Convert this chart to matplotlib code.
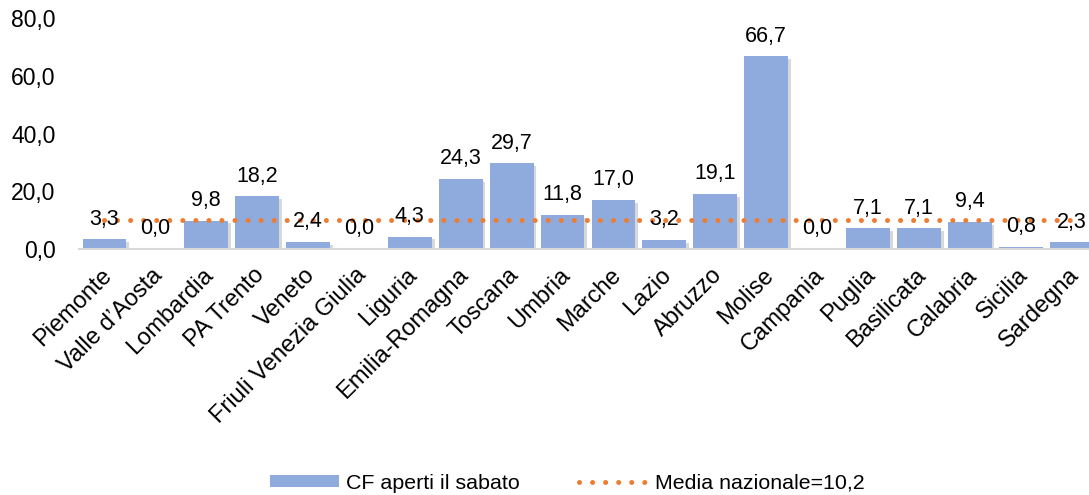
import matplotlib
matplotlib.use("Agg")
import matplotlib.pyplot as plt
import matplotlib.patheffects as pe
import matplotlib.transforms as mtransforms
from matplotlib.patches import Patch
from matplotlib.lines import Line2D

regions = ["Piemonte", "Valle d\u2019Aosta", "Lombardia", "PA Trento", "Veneto",
           "Friuli Venezia Giulia", "Liguria", "Emilia-Romagna", "Toscana", "Umbria",
           "Marche", "Lazio", "Abruzzo", "Molise", "Campania", "Puglia", "Basilicata",
           "Calabria", "Sicilia", "Sardegna"]
values = [3.3, 0.0, 9.8, 18.2, 2.4, 0.0, 4.3, 24.3, 29.7, 11.8,
          17.0, 3.2, 19.1, 66.7, 0.0, 7.1, 7.1, 9.4, 0.8, 2.3]
media = 10.2
yticks = [0, 20, 40, 60, 80]

plt.rcParams['font.family'] = ['Liberation Sans', 'DejaVu Sans']

fig = plt.figure(figsize=(10.89, 4.95), dpi=100)
ax = fig.add_axes([79/1089, 1 - 249/495, (1097-79)/1089, (249-18)/495])

x = list(range(len(regions)))
bars = ax.bar(x, values, width=0.86, color='#8FAADC', zorder=2,
              label='CF aperti il sabato')
for b in bars:
    b.set_path_effects([pe.SimplePatchShadow(offset=(2, -2), shadow_rgbFace='#666666', alpha=0.25),
                        pe.Normal()])

dot_style = (0, (0.01, 2.6))
ax.plot(x, [media]*len(x), color='#ED7D31', linewidth=3.6,
        linestyle=dot_style, dash_capstyle='round', zorder=3)

for xi, v in zip(x, values):
    ax.annotate(f"{v:.1f}".replace('.', ','), (xi, v), xytext=(0, 7),
                textcoords='offset points', ha='center', va='bottom',
                fontsize=15.5, color='#000000', zorder=4)

ax.set_xlim(-0.5, len(regions) - 0.5)
ax.set_ylim(0, 80)
ax.set_yticks(yticks)
ax.set_yticklabels([f"{t:.1f}".replace('.', ',') for t in yticks], fontsize=16.5)
ax.tick_params(axis='y', length=0, pad=17)
ax.set_xticks(x)
ax.set_xticklabels(regions, rotation=45, ha='right', va='top',
                   rotation_mode='anchor', fontsize=17)
ax.tick_params(axis='x', length=0, pad=11)
shift = mtransforms.ScaledTranslation(-4/100, 0, fig.dpi_scale_trans)
for lbl in ax.get_xticklabels():
    lbl.set_transform(lbl.get_transform() + shift)

for s in ['left', 'right', 'top']:
    ax.spines[s].set_visible(False)
ax.spines['bottom'].set_color('#D9D9D9')
ax.spines['bottom'].set_linewidth(1.5)

handles = [Patch(facecolor='#8FAADC', edgecolor='none'),
           Line2D([0], [0], color='#ED7D31', linewidth=3.6,
                  linestyle=dot_style, dash_capstyle='round')]
fig.legend(handles, ['CF aperti il sabato', 'Media nazionale=10,2'],
           loc='center', bbox_to_anchor=(0.521, 0.024), ncol=2, frameon=False,
           fontsize=15.4, handlelength=3.2, handleheight=0.52,
           handletextpad=0.33, columnspacing=2.8)

fig.savefig('out.png', dpi=100)
